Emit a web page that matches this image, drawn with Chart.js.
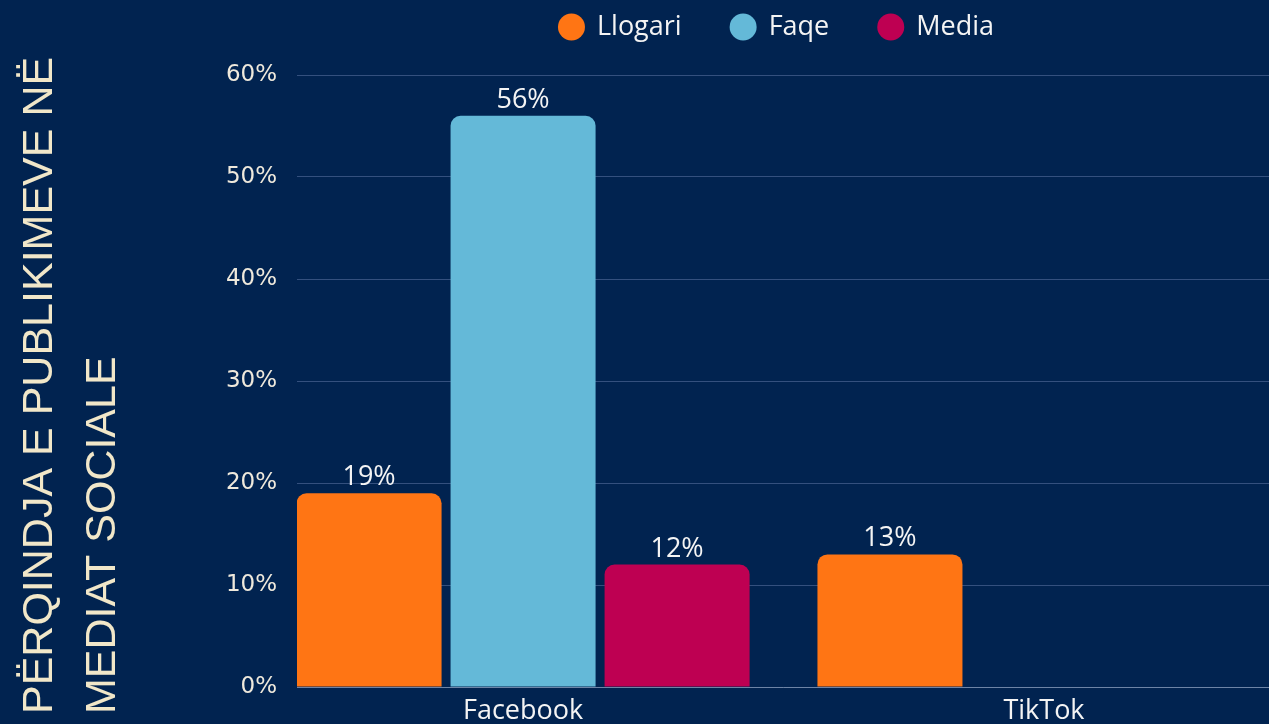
<!DOCTYPE html>
<html>
<head>
<meta charset="utf-8">
<title>Përqindja e publikimeve në mediat sociale</title>
<script src="https://cdn.jsdelivr.net/npm/chart.js@4.4.1/dist/chart.umd.min.js"></script>
<style>
  html, body { margin: 0; padding: 0; background: #012350; overflow: hidden; }
  #wrap { width: 1269px; height: 724px; }
</style>
</head>
<body>
<div id="wrap"><canvas id="chart" width="1269" height="724"></canvas></div>
<script>
const platforms = ["Facebook", "TikTok"];
const llogari = [19, 13];
const faqe = [56, null];
const media = [12, null];
const seriesNames = ["Llogari", "Faqe", "Media"];
const seriesColors = ["#ff7514", "#64b9d8", "#be0052"];
const yTicks = [0, 10, 20, 30, 40, 50, 60];
const axisTitle = ["PËRQINDJA E PUBLIKIMEVE NË", "MEDIAT SOCIALE"];

const bg = "#012350";
const labelFont = "'Open Sans', 'Noto Sans', sans-serif";

// x positions on a linear scale so the side margins can be narrower than half a category
const toPoints = arr => arr.map((v, i) => ({ x: i, y: v }));

const bgPlugin = {
  id: "bg",
  beforeDraw(chart) {
    const ctx = chart.ctx;
    ctx.save();
    ctx.fillStyle = bg;
    ctx.fillRect(0, 0, chart.width, chart.height);
    ctx.restore();
  }
};

const valueLabels = {
  id: "valueLabels",
  afterDatasetsDraw(chart) {
    const ctx = chart.ctx;
    ctx.save();
    ctx.font = "27px " + labelFont;
    ctx.fillStyle = "#f4f4f4";
    ctx.textAlign = "center";
    ctx.textBaseline = "alphabetic";
    chart.data.datasets.forEach((ds, di) => {
      chart.getDatasetMeta(di).data.forEach((bar, i) => {
        const v = ds.data[i].y;
        if (v == null) return;
        ctx.fillText(v + "%", bar.x, bar.y - 8);
      });
    });
    ctx.restore();
  }
};

const sideTitle = {
  id: "sideTitle",
  afterDraw(chart) {
    const ctx = chart.ctx;
    ctx.save();
    ctx.font = "43px 'Liberation Sans', Arial, sans-serif";
    ctx.fillStyle = "#f1e7c9";
    ctx.textAlign = "left";
    ctx.textBaseline = "alphabetic";
    axisTitle.forEach((line, i) => {
      ctx.save();
      ctx.translate(52 + i * 63, 714);
      ctx.rotate(-Math.PI / 2);
      ctx.fillText(line, 0, 0);
      ctx.restore();
    });
    ctx.restore();
  }
};

const dotLegend = {
  id: "dotLegend",
  afterDraw(chart) {
    const ctx = chart.ctx;
    const r = 13.5, gapText = 12, gapItem = 48, cy = 27;
    ctx.save();
    ctx.font = "27px " + labelFont;
    ctx.textBaseline = "middle";
    ctx.textAlign = "left";
    const widths = seriesNames.map(n => ctx.measureText(n).width);
    let total = 0;
    widths.forEach((w, i) => { total += 2 * r + gapText + w + (i < widths.length - 1 ? gapItem : 0); });
    const ca = chart.chartArea;
    let x = (ca.left + ca.right) / 2 - 7 - total / 2;
    seriesNames.forEach((n, i) => {
      ctx.fillStyle = seriesColors[i];
      ctx.beginPath();
      ctx.arc(x + r, cy, r, 0, Math.PI * 2);
      ctx.fill();
      ctx.fillStyle = "#f4f4f4";
      ctx.fillText(n, x + 2 * r + gapText, cy);
      x += 2 * r + gapText + widths[i] + gapItem;
    });
    ctx.restore();
  }
};

const barStyle = {
  borderRadius: 10,
  borderSkipped: "start",
  categoryPercentage: 0.887,
  barPercentage: 0.9416
};

new Chart(document.getElementById("chart"), {
  type: "bar",
  data: {
    datasets: [
      { label: seriesNames[0], data: toPoints(llogari), backgroundColor: seriesColors[0], ...barStyle },
      { label: seriesNames[1], data: toPoints(faqe), backgroundColor: seriesColors[1], ...barStyle },
      { label: seriesNames[2], data: toPoints(media), backgroundColor: seriesColors[2], ...barStyle }
    ]
  },
  options: {
    responsive: false,
    animation: false,
    layout: { padding: { top: 75, left: 0, right: 0, bottom: 0 } },
    plugins: {
      legend: { display: false },
      tooltip: { enabled: false }
    },
    scales: {
      x: {
        type: "linear",
        offset: false,
        min: -0.434,
        max: 1.432,
        afterBuildTicks: s => { s.ticks = platforms.map((p, i) => ({ value: i })); },
        afterFit: s => { s.height = 37; },
        grid: { display: false, drawTicks: false },
        border: { display: true, color: "#6d84a6", width: 1 },
        ticks: {
          padding: 8,
          color: "#f4f4f4",
          font: { family: labelFont, size: 27 },
          callback: v => platforms[v]
        }
      },
      y: {
        min: 0,
        max: 60,
        afterBuildTicks: s => { s.ticks = yTicks.map(v => ({ value: v })); },
        afterFit: s => { s.width = 297; },
        grid: { color: "#34507e", lineWidth: 1, drawTicks: false },
        border: { display: false },
        ticks: {
          padding: 20,
          color: "#efe9dc",
          font: { family: "'DejaVu Sans', sans-serif", size: 23 },
          callback: v => v + "%"
        }
      }
    }
  },
  plugins: [bgPlugin, valueLabels, sideTitle, dotLegend]
});
</script>
</body>
</html>
